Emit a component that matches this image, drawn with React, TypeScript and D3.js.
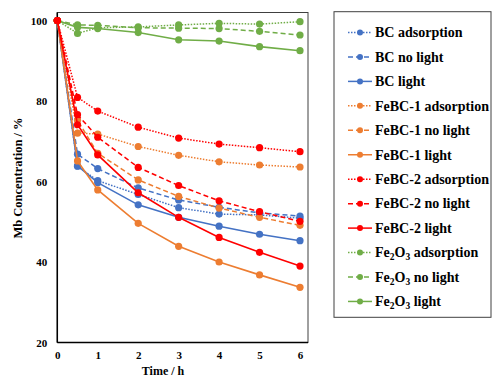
import { useEffect, useRef } from 'react'
import * as d3 from 'd3'

// time points (h)
const times = [0, 0.5, 1, 2, 3, 4, 5, 6]

// Mb concentration (%) per series
const bcAdsorption = [100, 63.8, 60.2, 56.8, 53.5, 51.9, 51.7, 50.9]
const bcNoLight = [100, 66.8, 63.2, 58.4, 55.4, 53.6, 52.2, 51.4]
const bcLight = [100, 63.9, 59.7, 54.2, 51.1, 48.9, 46.9, 45.3]
const febc1Adsorption = [100, 72.0, 71.8, 68.7, 66.5, 64.9, 64.1, 63.6]
const febc1NoLight = [100, 75.2, 67.0, 60.4, 56.3, 53.4, 51.1, 49.1]
const febc1Light = [100, 65.1, 57.9, 49.6, 43.9, 40.0, 36.8, 33.7]
const febc2Adsorption = [100, 80.9, 77.5, 73.5, 70.8, 69.3, 68.4, 67.4]
const febc2NoLight = [100, 76.6, 71.0, 63.5, 59.0, 55.2, 52.5, 50.1]
const febc2Light = [100, 74.1, 66.6, 57.2, 51.1, 46.1, 42.4, 39.0]
const fe2o3Adsorption = [100, 96.8, 98.2, 98.4, 98.9, 99.3, 99.1, 99.7]
const fe2o3NoLight = [100, 98.9, 98.8, 98.2, 98.1, 98.0, 97.3, 96.4]
const fe2o3Light = [100, 98.3, 98.0, 97.0, 95.2, 94.9, 93.5, 92.5]

const xTicks = [0, 1, 2, 3, 4, 5, 6]
const yTicks = [20, 40, 60, 80, 100]

type Style = 'dot' | 'dash' | 'solid'

interface Series {
  name: string
  sub?: string
  tail?: string
  values: number[]
  color: string
  style: Style
}

const BLUE = '#4472C4'
const ORANGE = '#ED7D31'
const RED = '#FF0000'
const GREEN = '#70AD47'

// legend order
const series: Series[] = [
  { name: 'BC adsorption', values: bcAdsorption, color: BLUE, style: 'dot' },
  { name: 'BC no light', values: bcNoLight, color: BLUE, style: 'dash' },
  { name: 'BC light', values: bcLight, color: BLUE, style: 'solid' },
  { name: 'FeBC-1 adsorption', values: febc1Adsorption, color: ORANGE, style: 'dot' },
  { name: 'FeBC-1 no light', values: febc1NoLight, color: ORANGE, style: 'dash' },
  { name: 'FeBC-1 light', values: febc1Light, color: ORANGE, style: 'solid' },
  { name: 'FeBC-2 adsorption', values: febc2Adsorption, color: RED, style: 'dot' },
  { name: 'FeBC-2 no light', values: febc2NoLight, color: RED, style: 'dash' },
  { name: 'FeBC-2 light', values: febc2Light, color: RED, style: 'solid' },
  { name: 'Fe', sub: '2', tail: 'O', values: fe2o3Adsorption, color: GREEN, style: 'dot' },
  { name: 'Fe', sub: '2', tail: 'O', values: fe2o3NoLight, color: GREEN, style: 'dash' },
  { name: 'Fe', sub: '2', tail: 'O', values: fe2o3Light, color: GREEN, style: 'solid' },
]
const fe2o3Suffix = ['adsorption', 'no light', 'light']

const dashFor = (s: Style) => (s === 'dot' ? '1.5,1.5' : s === 'dash' ? '5,3' : null)

const FONT = 'Liberation Serif'

const App = () => {
  const svgRef = useRef<SVGSVGElement>(null)

  useEffect(() => {
    if (!svgRef.current) return
    const svg = d3.select(svgRef.current)
    svg.selectAll('*').remove()

    const x = d3.scaleLinear().domain([0, 6]).range([57.3, 300])
    const y = d3.scaleLinear().domain([20, 100]).range([342.5, 20.5])

    // plot frame
    svg
      .append('rect')
      .attr('x', 57.3)
      .attr('y', 12.5)
      .attr('width', 308 - 57.3)
      .attr('height', 342.5 - 12.5)
      .attr('fill', 'none')
      .attr('stroke', '#404040')
      .attr('stroke-width', 1)

    // axes
    const yAxis = svg
      .append('g')
      .attr('transform', `translate(57.3,0)`)
      .call(d3.axisLeft(y).tickValues(yTicks).tickSize(0).tickPadding(10).tickFormat(d3.format('d')))
    yAxis.attr('font-family', FONT).attr('font-size', 11).attr('font-weight', 'bold')
    yAxis.select('.domain').attr('stroke', '#000').attr('stroke-width', 1.5).attr('d', `M0,12.5V342.5`)
    yAxis.selectAll('text').attr('fill', '#000')

    const xAxis = svg
      .append('g')
      .attr('transform', `translate(0,342.5)`)
      .call(d3.axisBottom(x).tickValues(xTicks).tickSize(0).tickPadding(9).tickFormat(d3.format('d')))
    xAxis.attr('font-family', FONT).attr('font-size', 11).attr('font-weight', 'bold')
    xAxis.select('.domain').attr('stroke', '#000').attr('stroke-width', 1.5).attr('d', `M57.3,0H308`)
    xAxis.selectAll('text').attr('fill', '#000')

    // axis titles
    svg
      .append('text')
      .attr('x', 163)
      .attr('y', 375)
      .attr('text-anchor', 'middle')
      .attr('font-family', FONT)
      .attr('font-weight', 'bold')
      .attr('font-size', 12)
      .text('Time / h')

    svg
      .append('text')
      .attr('transform', 'rotate(-90)')
      .attr('x', -178)
      .attr('y', 22)
      .attr('text-anchor', 'middle')
      .attr('font-family', FONT)
      .attr('font-weight', 'bold')
      .attr('font-size', 12.5)
      .text('Mb Concentration / %')

    // series: draw blue, orange, green, then red on top
    const drawOrder = [0, 1, 2, 3, 4, 5, 9, 10, 11, 6, 7, 8]
    const line = d3
      .line<number>()
      .x((_, i) => x(times[i]))
      .y(d => y(d))

    drawOrder.forEach(idx => {
      const s = series[idx]
      const g = svg.append('g')
      g.append('path')
        .datum(s.values)
        .attr('fill', 'none')
        .attr('stroke', s.color)
        .attr('stroke-width', s.style === 'solid' ? 1.6 : 1.5)
        .attr('stroke-dasharray', dashFor(s.style))
        .attr('d', line)
      g.selectAll('circle')
        .data(s.values)
        .join('circle')
        .attr('cx', (_, i) => x(times[i]))
        .attr('cy', d => y(d))
        .attr('r', 3.6)
        .attr('fill', s.color)
    })

    // legend
    svg
      .append('rect')
      .attr('x', 334)
      .attr('y', 11.7)
      .attr('width', 157)
      .attr('height', 305.6)
      .attr('fill', '#fff')
      .attr('stroke', '#404040')
      .attr('stroke-width', 1)

    series.forEach((s, i) => {
      const ly = 32.5 + i * 24.45
      const row = svg.append('g').attr('transform', `translate(0,${ly})`)
      row
        .append('line')
        .attr('x1', 348)
        .attr('x2', 372)
        .attr('y1', 0)
        .attr('y2', 0)
        .attr('stroke', s.color)
        .attr('stroke-width', 1.5)
        .attr('stroke-dasharray', dashFor(s.style))
      row.append('circle').attr('cx', 360).attr('cy', 0).attr('r', 3).attr('fill', s.color)

      const t = row
        .append('text')
        .attr('x', 375)
        .attr('y', 4.8)
        .attr('font-family', FONT)
        .attr('font-weight', 'bold')
        .attr('font-size', 14)
        .attr('fill', '#000')
      if (s.sub) {
        const suffix = fe2o3Suffix[i - 9]
        t.append('tspan').text(s.name)
        t.append('tspan').attr('dy', 3).attr('font-size', 9.5).text(s.sub)
        t.append('tspan').attr('dy', -3).text(s.tail!)
        t.append('tspan').attr('dy', 3).attr('font-size', 9.5).text('3')
        t.append('tspan').attr('dy', -3).text(' ' + suffix)
      } else {
        t.text(s.name)
      }
    })
  }, [])

  return (
    <svg
      ref={svgRef}
      width={492}
      height={378}
      style={{ position: 'absolute', left: 0, top: 0, background: '#fff' }}
    />
  )
}

export default App
